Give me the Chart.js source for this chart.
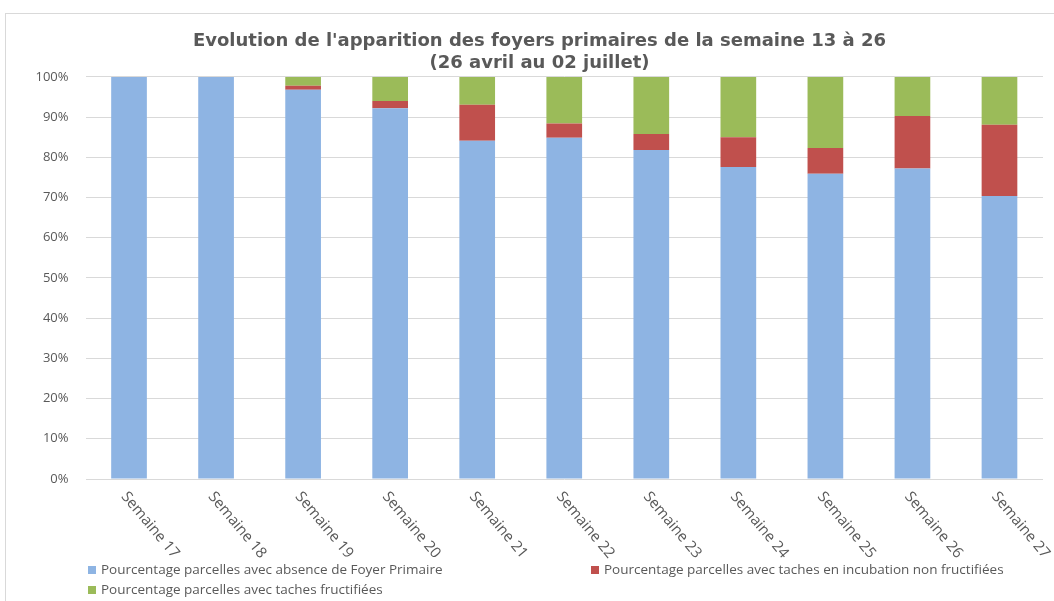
<!DOCTYPE html>
<html>
<head>
<meta charset="utf-8">
<script src="https://cdn.jsdelivr.net/npm/chart.js@4.4.1/dist/chart.umd.min.js"></script>
<style>
  html, body { margin: 0; padding: 0; background: #fff; }
  #wrap { position: relative; width: 1054px; height: 601px; overflow: hidden; }
  #frame { position: absolute; left: 5px; top: 13px; width: 1200px; height: 700px; border: 1px solid #d9d9d9; }
  #myChart { position: absolute; left: 0; top: 0; }
  .leg { position: absolute; font: 13.5px "Open Sans", sans-serif; color: #595959; white-space: nowrap; }
  .leg i { display: inline-block; width: 8px; height: 8px; margin-right: 5px; vertical-align: 0px; }
</style>
</head>
<body>
<div id="wrap">
  <div id="frame"></div>
  <canvas id="myChart" width="1054" height="601"></canvas>
</div>
<script>
// Données
const semaines = ['Semaine 17', 'Semaine 18', 'Semaine 19', 'Semaine 20', 'Semaine 21', 'Semaine 22',
  'Semaine 23', 'Semaine 24', 'Semaine 25', 'Semaine 26', 'Semaine 27'];
const absenceFoyer = [100, 100, 96.8, 92.2, 84.1, 84.9, 81.8, 77.6, 75.9, 77.2, 70.4];
const incubation = [0, 0, 1.0, 1.8, 9.0, 3.5, 4.0, 7.4, 6.4, 13.1, 17.7];
const fructifiees = [0, 0, 2.2, 6.0, 6.9, 11.6, 14.2, 15.0, 17.7, 9.7, 11.9];
const yTicks = [0, 10, 20, 30, 40, 50, 60, 70, 80, 90, 100];

const gris = '#595959';

// etiquettes x tournées (sens horaire)
const xLabelsPlugin = {
  id: 'xLabels',
  afterDraw(chart) {
    const xs = chart.scales.x;
    const ctx = chart.ctx;
    ctx.save();
    ctx.fillStyle = gris;
    ctx.font = '15px "Open Sans", sans-serif';
    ctx.textAlign = 'left';
    ctx.textBaseline = 'middle';
    semaines.forEach((lab, i) => {
      const px = xs.getPixelForValue(i);
      ctx.save();
      ctx.translate(px - 5, xs.top + 15);
      ctx.rotate(50 * Math.PI / 180);
      ctx.fillText(lab, 0, 0);
      ctx.restore();
    });
    ctx.restore();
  }
};

const ctx = document.getElementById('myChart').getContext('2d');
const chart = new Chart(ctx, {
  type: 'bar',
  data: {
    labels: semaines,
    datasets: [
      { label: 'Pourcentage parcelles avec absence de Foyer Primaire', data: absenceFoyer, backgroundColor: '#8EB4E3' },
      { label: 'Pourcentage parcelles avec taches en incubation non fructifiées', data: incubation, backgroundColor: '#C0504D' },
      { label: 'Pourcentage parcelles avec taches fructifiées', data: fructifiees, backgroundColor: '#9BBB59' }
    ]
  },
  options: {
    responsive: false,
    animation: false,
    layout: { padding: { top: 0, right: 11, left: 36, bottom: 0 } },
    datasets: { bar: { barPercentage: 0.41, categoryPercentage: 1 } },
    plugins: {
      legend: { display: false },
      tooltip: { enabled: false },
      title: {
        display: true,
        text: ["Evolution de l'apparition des foyers primaires de la semaine 13 à 26", '(26 avril au 02 juillet)'],
        color: gris,
        font: { family: '"DejaVu Sans", sans-serif', size: 18, weight: 'bold', lineHeight: 1.22 },
        padding: { top: 30, bottom: 3 }
      }
    },
    scales: {
      x: {
        stacked: true,
        grid: { display: false },
        border: { display: false },
        ticks: { display: false },
        afterFit(scale) { scale.height = 122; }
      },
      y: {
        stacked: true,
        min: 0,
        max: 100,
        afterBuildTicks(scale) { scale.ticks = yTicks.map(v => ({ value: v })); },
        grid: { color: '#d9d9d9', drawTicks: false },
        border: { display: false },
        ticks: {
          color: gris,
          padding: 17,
          font: { family: '"Open Sans", sans-serif', size: 13 },
          callback: v => v + '%'
        },
        afterFit(scale) { scale.width = 49.5; }
      }
    }
  },
  plugins: [xLabelsPlugin]
});

// légende HTML
const legPos = [[88, 560], [591, 560], [88, 580]];
chart.data.datasets.forEach((ds, i) => {
  const el = document.createElement('div');
  el.className = 'leg';
  el.style.left = legPos[i][0] + 'px';
  el.style.top = legPos[i][1] + 'px';
  el.innerHTML = '<i style="background:' + ds.backgroundColor + '"></i>' + ds.label;
  document.getElementById('wrap').appendChild(el);
});
</script>
</body>
</html>
